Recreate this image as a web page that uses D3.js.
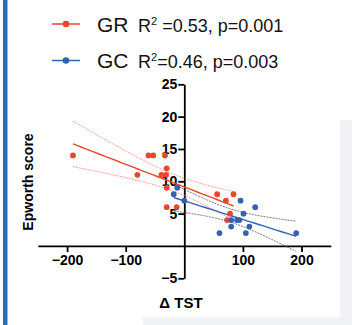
<!DOCTYPE html>
<html>
<head>
<meta charset="utf-8">
<script src="https://cdn.jsdelivr.net/npm/d3@7"></script>
<style>
  body { margin: 0; background: #fff; }
  svg text { font-family: "Liberation Sans", Arial, Helvetica, sans-serif; }
</style>
</head>
<body>
<svg id="chart" width="352" height="325"></svg>
<script>
// GR group (red)
var grX = [-190, -80, -61, -53, -33, -30, -39, -31, -30, -30, -13, 56, 71, 84, 78, 73];
var grY = [14, 11, 14, 14, 14, 12, 11, 11, 9, 6, 6, 8, 7, 8, 5, 4];
// GC group (blue)
var gcX = [-12, -18, 0, 96, 121, 101, 80, 90, 94, 80, 111, 60, 105, 191];
var gcY = [9, 8, 7, 7, 6, 5, 4, 4, 4, 3, 3, 2, 2, 2];

var xTicks = [-200, -100, 100, 200];
var yTicks = [-5, 5, 10, 15, 20, 25];

var legendNames = ["GR", "GC"];
var legendR2 = ["0.53", "0.46"];
var legendP = ["0.001", "0.003"];

var red = "#e8462d", blue = "#3561b5";

var svg = d3.select("#chart");

// left accent bar + faint background bits from the screenshot
svg.append("rect").attr("x", 3).attr("y", 0).attr("width", 4.5).attr("height", 325).attr("fill", "#2b6cb4");
svg.append("rect").attr("x", 340).attr("y", 120).attr("width", 12).attr("height", 205).attr("fill", "#f1f3f6");
svg.append("rect").attr("x", 143).attr("y", 317).attr("width", 209).attr("height", 8).attr("fill", "#f1f3f6");

var x = d3.scaleLinear().domain([-250, 250]).range([37.8, 330.8]);
var y = d3.scaleLinear().domain([-5, 25]).range([278.3, 84.3]);

function tcrit(df) {
  var tab = {10: 2.228, 11: 2.201, 12: 2.179, 13: 2.160, 14: 2.145, 15: 2.131, 16: 2.120};
  return tab[df] || 2.1;
}

// least squares line + 95% confidence band over the data's x range
function fit(xs, ys) {
  var n = xs.length, mx = d3.mean(xs), my = d3.mean(ys);
  var sxx = 0, sxy = 0, syy = 0;
  for (var i = 0; i < n; i++) {
    sxx += (xs[i] - mx) * (xs[i] - mx);
    sxy += (xs[i] - mx) * (ys[i] - my);
    syy += (ys[i] - my) * (ys[i] - my);
  }
  var b = sxy / sxx, a = my - b * mx;
  var s = Math.sqrt((syy - b * sxy) / (n - 2));
  var t = tcrit(n - 2);
  var x0 = d3.min(xs), x1 = d3.max(xs);
  return d3.range(0, 41).map(function(k) {
    var xv = x0 + (x1 - x0) * k / 40;
    var yh = a + b * xv;
    var se = s * Math.sqrt(1 / n + (xv - mx) * (xv - mx) / sxx);
    return {x: xv, y: yh, lo: yh - t * se, hi: yh + t * se};
  });
}

function drawFit(xs, ys, color, ciColor) {
  var band = fit(xs, ys);
  var g = svg.append("g");
  ["lo", "hi"].forEach(function(k) {
    g.append("path")
     .attr("d", d3.line().x(function(d) { return x(d.x); }).y(function(d) { return y(d[k]); })(band))
     .attr("fill", "none").attr("stroke", ciColor).attr("stroke-width", 0.8)
     .attr("stroke-dasharray", "2,1");
  });
  g.append("path")
   .attr("d", d3.line().x(function(d) { return x(d.x); }).y(function(d) { return y(d.y); })(band))
   .attr("fill", "none").attr("stroke", color).attr("stroke-width", 1.4);
}

// axes
var xAxis = svg.append("g").attr("transform", "translate(0," + y(0) + ")")
  .call(d3.axisBottom(x).tickValues(xTicks).tickSizeInner(6).tickSizeOuter(0).tickPadding(3));
var yAxis = svg.append("g").attr("transform", "translate(" + x(0) + ",0)")
  .call(d3.axisLeft(y).tickValues(yTicks).tickSizeInner(6).tickSizeOuter(0).tickPadding(1));
[xAxis, yAxis].forEach(function(ax) {
  ax.select(".domain").attr("stroke", "#000").attr("stroke-width", 1.8);
  ax.selectAll(".tick line").attr("stroke", "#000").attr("stroke-width", 1.8);
  ax.selectAll(".tick text").attr("fill", "#000").attr("font-size", 14).attr("font-weight", "bold")
    .style("font-family", "'Liberation Sans', Arial, sans-serif");
});

drawFit(grX, grY, red, "#f08a78");
drawFit(gcX, gcY, blue, "#555");

function dots(xs, ys, color) {
  svg.append("g").selectAll("circle").data(xs).enter().append("circle")
     .attr("cx", function(d) { return x(d); })
     .attr("cy", function(d, i) { return y(ys[i]); })
     .attr("r", 2.9).attr("fill", color);
}
dots(grX, grY, red);
dots(gcX, gcY, blue);

// axis titles
svg.append("text").attr("transform", "translate(33,182) rotate(-90)")
   .attr("text-anchor", "middle").attr("font-size", 14).attr("font-weight", "bold").text("Epworth score");
svg.append("text").attr("x", 181).attr("y", 308)
   .attr("text-anchor", "middle").attr("font-size", 15).attr("font-weight", "bold").text("Δ TST");

// legend
var legColors = [red, blue];
var legY = [24, 60.5];
legendNames.forEach(function(nm, i) {
  var g = svg.append("g").attr("transform", "translate(0," + legY[i] + ")");
  g.append("line").attr("x1", 52).attr("x2", 80).attr("y1", 0).attr("y2", 0)
   .attr("stroke", legColors[i]).attr("stroke-width", 1.5);
  g.append("circle").attr("cx", 66).attr("cy", 0).attr("r", 3.3).attr("fill", legColors[i]);
  g.append("text").attr("x", 97).attr("y", 7.5).attr("font-size", 21).attr("fill", "#111").text(nm);
  var t = g.append("text").attr("x", 138).attr("y", 7.5).attr("font-size", 18).attr("fill", "#111");
  t.append("tspan").text("R");
  t.append("tspan").attr("dy", -7).attr("font-size", 11).text("2");
  t.append("tspan").attr("dy", 7).text((i === 0 ? " " : "") + "=" + legendR2[i] + ", p=" + legendP[i]);
});
</script>
</body>
</html>
